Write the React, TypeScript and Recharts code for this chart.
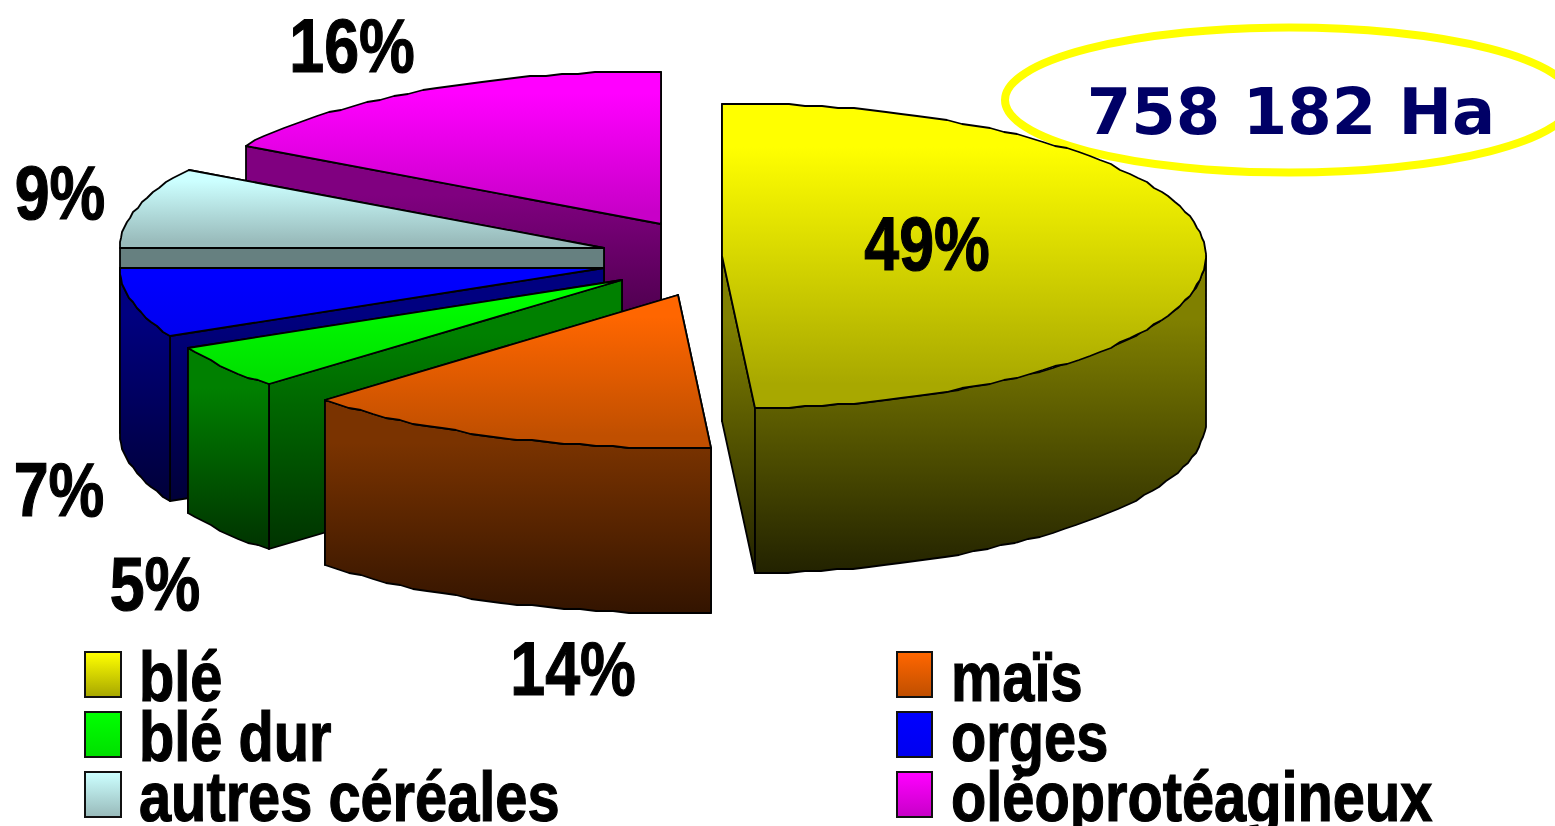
import { PieChart, Pie, Legend } from 'recharts';

// Shares estimated from the slice geometry, the labels show them rounded
const categories = ['blé', 'maïs', 'blé dur', 'orges', 'autres céréales', 'oléoprotéagineux'];
const shares = [48.9, 14.1, 4.7, 7.3, 8.6, 16.4];
const areaLabel = '758 182 Ha';

const WIDTH = 1555;
const HEIGHT = 826;
const RADIUS = 484;
const SQUASH = 0.316; // ellipse ratio of the tilted pie
const DEPTH = 165;
const CONDENSE = 0.825; // the source font is a condensed Arial bold
const SANS = '"Liberation Sans", Arial, sans-serif';

// Per slice looks: top face gradient, side face gradient, explode offset, label anchor
const LOOKS: Record<string, any> = {
    'blé': { top: ['#ffff00', '#a8a800'], side: ['#808000', '#222200'], dx: 72, dy: 6, lx: 927, ly: 270 },
    'maïs': { top: ['#ff6600', '#c04f00'], side: ['#7a3300', '#331400'], dx: 28, dy: 45, lx: 573, ly: 695 },
    'blé dur': { top: ['#00ff00', '#00e000'], side: ['#008000', '#003300'], dx: -28, dy: 30, lx: 155, ly: 610 },
    'orges': { top: ['#0000ff', '#0000f0'], side: ['#000080', '#000038'], dx: -46, dy: 18, lx: 59, ly: 516 },
    'autres céréales': { top: ['#ccffff', '#99bbbb'], side: ['#668080', '#668080'], dx: -46, dy: -2, lx: 60, ly: 219 },
    'oléoprotéagineux': { top: ['#ff00ff', '#c800c8'], side: ['#800080', '#300030'], dx: 11, dy: -26, lx: 352, ly: 72 },
};

// Drawn back to front, so the pie runs counter clockwise from the last category
const pieData = categories.map((name, i) => ({ name, value: shares[i] })).reverse();

const gradId = (name: string, face: string) => `${face}-${categories.indexOf(name)}`;
const snap = (v: number) => Math.round(v / 2) * 2; // the source has slightly stepped outlines

function PieSlice3D(props: any) {
    const { cx, cy, outerRadius, startAngle, endAngle, payload } = props;
    const name = payload?.name ?? props.name;
    const look = LOOKS[name];
    const ox = cx + look.dx;
    const oy = cy + look.dy;
    const at = (deg: number, drop = 0): [number, number] => {
        const rad = (deg * Math.PI) / 180;
        return [
            Math.round(ox + outerRadius * Math.cos(rad)),
            snap(oy - outerRadius * SQUASH * Math.sin(rad)) + drop,
        ];
    };
    const arc = (from: number, to: number, drop = 0) => {
        const pts: [number, number][] = [];
        const steps = Math.max(2, Math.ceil((to - from) / 2));
        for (let i = 0; i <= steps; i++) pts.push(at(from + ((to - from) * i) / steps, drop));
        return pts;
    };
    const toPath = (pts: [number, number][]) => 'M' + pts.map((p) => p.join(',')).join('L') + 'Z';
    const centre: [number, number] = [ox, oy];
    const centreLow: [number, number] = [ox, oy + DEPTH];
    const cut = (deg: number) => toPath([centre, at(deg), at(deg, DEPTH), centreLow]);

    const wallFrom = Math.max(startAngle, 180);
    const wallTo = Math.min(endAngle, 360);
    const strokeProps = { stroke: '#000', strokeWidth: 1.8, strokeLinejoin: 'round' as const };
    const sideFill = `url(#${gradId(name, 'side')})`;

    return (
        <g>
            <path d={cut(startAngle)} fill={sideFill} {...strokeProps} />
            <path d={cut(endAngle)} fill={sideFill} {...strokeProps} />
            {wallFrom < wallTo && (
                <path
                    d={toPath([...arc(wallFrom, wallTo), ...arc(wallFrom, wallTo, DEPTH).reverse()])}
                    fill={sideFill}
                    {...strokeProps}
                />
            )}
            <path
                d={toPath([centre, ...arc(startAngle, endAngle)])}
                fill={`url(#${gradId(name, 'top')})`}
                {...strokeProps}
            />
        </g>
    );
}

function SliceLabel(props: any) {
    const look = LOOKS[props.payload?.name ?? props.name];
    return (
        <text
            transform={`translate(${look.lx} ${look.ly}) scale(${CONDENSE} 1)`}
            textAnchor="middle"
            fontFamily={SANS}
            fontWeight="bold"
            fontSize={76}
            fill="#000"
            stroke="#000"
            strokeWidth={1.2}
        >
            {Math.round(props.value)}%
        </text>
    );
}

function LegendBlock() {
    return (
        <div style={{ position: 'absolute', left: 0, top: 0, width: WIDTH, height: HEIGHT, overflow: 'hidden' }}>
            {categories.map((name, i) => {
                const col = i % 2;
                const row = Math.floor(i / 2);
                const look = LOOKS[name];
                return (
                    <div key={name}>
                        <div
                            style={{
                                position: 'absolute',
                                left: col ? 896 : 84,
                                top: 651 + row * 60,
                                width: col ? 37 : 38,
                                height: 47,
                                boxSizing: 'border-box',
                                border: '2.5px solid #111',
                                background: `linear-gradient(${look.top[0]}, ${look.top[1]})`,
                            }}
                        />
                        <div
                            style={{
                                position: 'absolute',
                                left: col ? 951 : 139,
                                top: 637 + row * 60,
                                lineHeight: '80px',
                                whiteSpace: 'nowrap',
                                fontFamily: SANS,
                                fontWeight: 'bold',
                                fontSize: 70,
                                color: '#000',
                                WebkitTextStroke: '1.2px #000',
                                transform: `scaleX(${CONDENSE})`,
                                transformOrigin: 'left',
                            }}
                        >
                            {name}
                        </div>
                    </div>
                );
            })}
        </div>
    );
}

export default function App() {
    return (
        <div style={{ position: 'fixed', left: 0, top: 0, width: WIDTH, height: HEIGHT, overflow: 'hidden', background: '#fff' }}>
            <PieChart width={WIDTH} height={HEIGHT} margin={{ top: 0, right: 0, bottom: 0, left: 0 }}>
                <defs>
                    {categories.map((name) => (
                        <g key={name}>
                            {['top', 'side'].map((face) => (
                                <linearGradient key={face} id={gradId(name, face)} x1="0" y1="0" x2="0" y2="1">
                                    <stop offset={face === 'top' ? '14%' : '20%'} stopColor={LOOKS[name][face][0]} />
                                    <stop offset={face === 'top' ? '92%' : '100%'} stopColor={LOOKS[name][face][1]} />
                                </linearGradient>
                            ))}
                        </g>
                    ))}
                </defs>
                <ellipse cx={1289} cy={100} rx={284} ry={72.5} fill="none" stroke="#ffff00" strokeWidth={8} />
                <text
                    x={1291}
                    y={134}
                    textAnchor="middle"
                    fontFamily="DejaVu Sans"
                    fontWeight="bold"
                    fontSize={64}
                    fill="#000066"
                >
                    {areaLabel}
                </text>
                <Pie
                    data={pieData}
                    dataKey="value"
                    nameKey="name"
                    cx={650}
                    cy={250}
                    innerRadius={0}
                    outerRadius={RADIUS}
                    startAngle={90}
                    endAngle={450}
                    stroke="#000"
                    shape={PieSlice3D}
                    label={SliceLabel}
                    labelLine={false}
                    isAnimationActive={false}
                />
                <Legend content={LegendBlock} wrapperStyle={{ left: 0, top: 0, bottom: 'auto', width: WIDTH, height: 0 }} />
            </PieChart>
        </div>
    );
}
